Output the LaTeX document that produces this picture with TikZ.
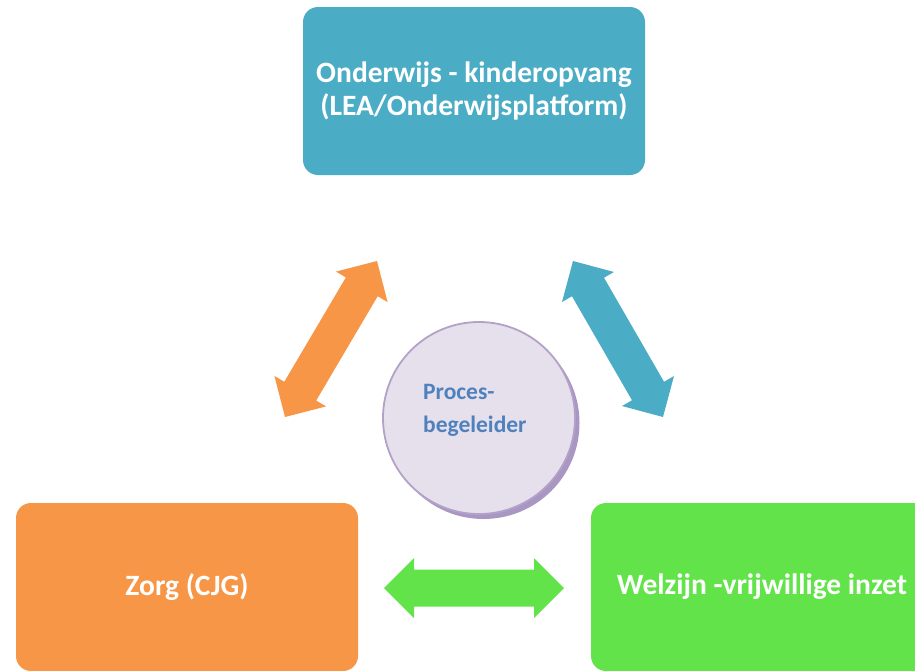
\documentclass[tikz,border=0pt]{standalone}
\usepackage{fontspec}
\setmainfont{Carlito}
\usetikzlibrary{calc}
\definecolor{cblue}{HTML}{4BACC6}
\definecolor{corange}{HTML}{F79646}
\definecolor{cgreen}{HTML}{62E34A}
\definecolor{cfill}{HTML}{E5E0EC}
\definecolor{cborder}{HTML}{B3A2C7}
\definecolor{cshadow}{HTML}{A996C3}
\definecolor{ctext}{HTML}{4F81BD}
\newcommand\dblarrow[3]{%
  \fill[#3] (#1)
    -- ($(#1)!30pt!(#2)!30pt!90:(#2)$)
    -- ($(#1)!30pt!(#2)!18.5pt!90:(#2)$)
    -- ($(#2)!30pt!(#1)!18.5pt!-90:(#1)$)
    -- ($(#2)!30pt!(#1)!30pt!-90:(#1)$)
    -- (#2)
    -- ($(#2)!30pt!(#1)!30pt!90:(#1)$)
    -- ($(#2)!30pt!(#1)!18.5pt!90:(#1)$)
    -- ($(#1)!30pt!(#2)!18.5pt!-90:(#2)$)
    -- ($(#1)!30pt!(#2)!30pt!-90:(#2)$)
    -- cycle;}
\tikzset{
  box/.style={rectangle, rounded corners=15pt, minimum width=342pt, minimum height=168pt,
    inner sep=0pt, align=center, text=white, font=\fontsize{29.5}{33.5}\selectfont\bfseries},
}
\begin{document}
\begin{tikzpicture}[x=1pt,y=-1pt]
\useasboundingbox (0,0) rectangle (915,670);
\clip (0,0) rectangle (915,670);
% boxes
\node[box, fill=cblue] (top) at (474,91) {Onderwijs - kinderopvang\\(LEA/Onderwijsplatform)};
\node[box, fill=corange] (zorg) at (187,587) {Zorg (CJG)};
\node[box, fill=cgreen] (welzijn) at (762,587) {Welzijn -vrijwillige inzet};
% arrows
\coordinate (oA) at (285,417); \coordinate (oB) at (377,261);
\coordinate (bA) at (573,261); \coordinate (bB) at (663,417);
\coordinate (gA) at (384,588); \coordinate (gB) at (564,588);
\dblarrow{oA}{oB}{corange}
\dblarrow{bA}{bB}{cblue}
\dblarrow{gA}{gB}{cgreen}
% circle
\fill[cshadow] (483.5,423) circle (96pt);
\node[circle, fill=cfill, draw=cborder, line width=1.8pt, minimum size=192pt, inner sep=0pt] (pb) at (479,418) {};
\node[anchor=base west, align=left, inner sep=0pt, text=ctext,
      font=\fontsize{23.5}{32.5}\selectfont\bfseries] (pbtext) at (423,432) {Proces-\\begeleider};
\end{tikzpicture}
\end{document}
